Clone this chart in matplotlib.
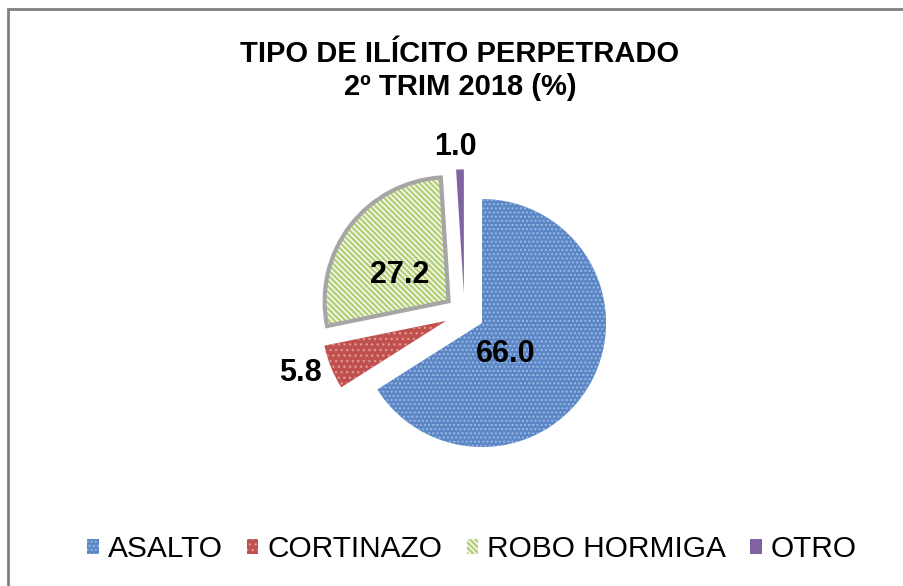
import numpy as np
import matplotlib
matplotlib.use('Agg')
import matplotlib.pyplot as plt
from matplotlib.patches import Wedge, Rectangle

plt.rcParams['font.family'] = ['Liberation Sans', 'DejaVu Sans']
plt.rcParams['hatch.linewidth'] = 1.0

categories = ['ASALTO', 'CORTINAZO', 'ROBO HORMIGA', 'OTRO']
values = [66.0, 5.8, 27.2, 1.0]
title_lines = ['TIPO DE ILÍCITO PERPETRADO', '2º TRIM 2018 (%)']

colors = ['#5A86C6', '#C0504D', '#B5D07A', '#8064A2']
hatch_colors = ['#9DB8E2', '#DE9593', '#FFFFFF', '#8064A2']
hatches = ['....', '...', '\\\\\\\\\\\\', None]
# label placement: fraction of radius from slice apex, angle tweak (deg)
label_dist = [0.29, 1.24, 0.46, 1.21]
label_turn = [-20.8, -3.4, 6.0, 1.6]

W, H = 904, 586
fig = plt.figure(figsize=(W / 100, H / 100), dpi=100)
ax = fig.add_axes([0, 0, 1, 1])

R = 124
cx, cy = 464.5, H - 313.4
# explode is in data units (pixels here)
wedges, _ = ax.pie(values, colors=colors, startangle=90, counterclock=False,
                   explode=[20] * len(values), radius=R, center=(cx, cy),
                   wedgeprops=dict(linewidth=0), frame=True)
ax.set_xlim(0, W)
ax.set_ylim(0, H)
ax.set_aspect('equal')
ax.axis('off')

for w, hc, h in zip(wedges, hatch_colors, hatches):
    if h:
        w.set_hatch(h)
        w.set_edgecolor(hc)
        w.set_linewidth(0)

# gray outline on ROBO HORMIGA slice
g = wedges[2]
ax.add_patch(Wedge(g.center, g.r, g.theta1, g.theta2, fill=False,
                   edgecolor='#A6A6A6', linewidth=3, joinstyle='miter'))

for w, v, d, t in zip(wedges, values, label_dist, label_turn):
    th = np.deg2rad((w.theta1 + w.theta2) / 2 + t)
    x = w.center[0] + d * R * np.cos(th)
    y = w.center[1] + d * R * np.sin(th)
    ax.text(x, y, f'{v:.1f}', ha='center', va='center_baseline', fontsize=22,
            fontweight='bold', color='black')

fig.text(460 / W, 1 - 54 / H, title_lines[0], ha='center', va='center',
         fontsize=21, fontweight='bold')
fig.text(460 / W, 1 - 87 / H, title_lines[1], ha='center', va='center',
         fontsize=21, fontweight='bold')

leg = fig.legend(wedges, categories, loc='center', bbox_to_anchor=(472 / W, 1 - 549 / H),
                 ncol=4, frameon=False, fontsize=21.5, handlelength=0.38,
                 handleheight=0.38, handletextpad=0.3, columnspacing=0.82)

fig.patches.append(Rectangle((8 / W, -0.05), 1.1, 1 - 9 / H + 0.05,
                             transform=fig.transFigure, fill=False,
                             edgecolor='#7F7F7F', linewidth=2))

fig.savefig('out.png', dpi=100)
